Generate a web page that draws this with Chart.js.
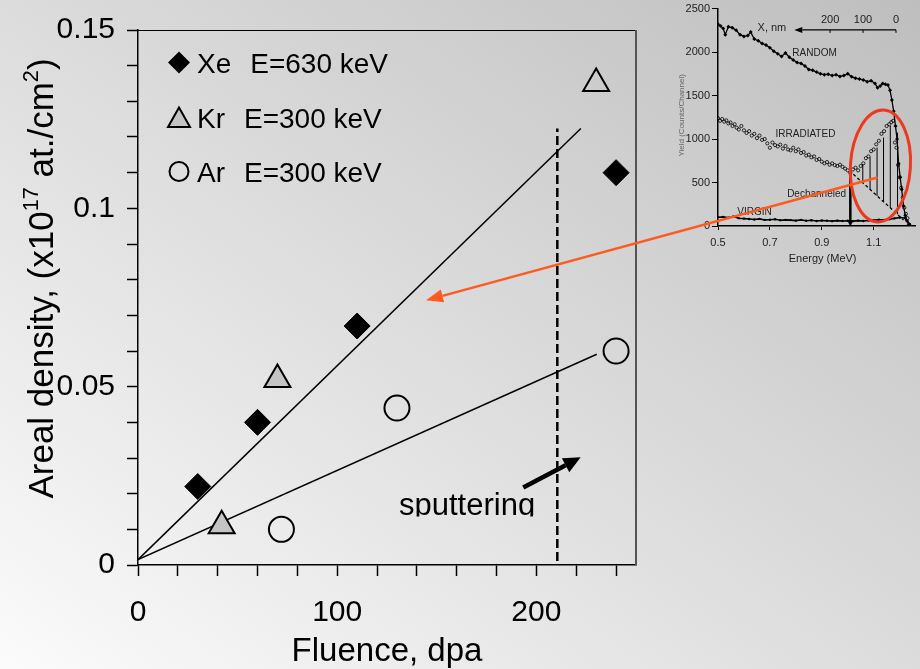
<!DOCTYPE html>
<html lang="en">
<head>
<meta charset="UTF-8">
<title>Areal density vs fluence</title>
<script src="https://cdn.jsdelivr.net/npm/chart.js"></script>
<style>
    html, body {
        margin: 0;
        padding: 0;
        width: 920px;
        height: 669px;
        overflow: hidden;
    }
    body {
        position: relative;
        background: linear-gradient(to top right, #fbfbfb 0%, #dcdcdc 50%, #bebebe 100%);
        font-family: 'Liberation Sans', Arial, sans-serif;
    }
    #inset-wrap {
        position: absolute;
        left: 672px;
        top: 0;
        width: 248px;
        height: 269px;
        z-index: 1;
    }
    #main-wrap {
        position: absolute;
        left: 0;
        top: 0;
        width: 920px;
        height: 669px;
        z-index: 2;
        pointer-events: none;
    }
</style>
</head>
<body>

<div id="inset-wrap"><canvas id="insetChart" width="248" height="269"></canvas></div>
<div id="main-wrap"><canvas id="mainChart" width="920" height="669"></canvas></div>

<script>
// ---- main chart data ----
const xeFluence = [30, 60, 110, 240];
const xeDensity = [0.022, 0.040, 0.067, 0.110];
const krFluence = [42, 70, 230];
const krDensity = [0.011, 0.052, 0.135];
const arFluence = [72, 130, 240];
const arDensity = [0.010, 0.044, 0.060];

const xeFitX = [0, 222.3];
const xeFitY = [0.0015, 0.1224];
const arFitX = [0, 230.3];
const arFitY = [0.0015, 0.0591];
const sputterX = [210.5, 210.5];
const sputterY = [0.0011, 0.1224];

const xTickLabels = [0, 100, 200];
const yTickLabels = [0, 0.05, 0.1, 0.15];

// ---- inset (RBS spectrum) data ----
const randomE = [0.500,0.510,0.520,0.528,0.540,0.555,0.570,0.585,0.600,0.615,
                 0.626,0.640,0.655,0.670,0.685,0.700,0.715,0.730,0.745,0.760,
                 0.775,0.790,0.805,0.820,0.835,0.850,0.865,0.880,0.895,0.910,
                 0.925,0.940,0.955,0.970,0.985,1.000,1.015,1.030,1.045,1.060,
                 1.075,1.090,1.105,1.115,1.125,1.135,1.145,1.155,1.163,1.170,
                 1.177,1.184,1.190,1.196,1.202,1.208,1.215,1.222,1.228,1.235];
const randomYield = [2320,2300,2270,2200,2290,2280,2250,2200,2180,2190,
                     2230,2150,2130,2100,2080,2050,2010,1980,1950,1990,
                     1940,1910,1880,1870,1840,1800,1790,1770,1750,1740,
                     1745,1730,1740,1720,1730,1750,1715,1700,1690,1680,
                     1660,1670,1640,1590,1610,1640,1630,1620,1560,1450,
                     1320,1150,1000,720,560,420,230,120,60,20];

const irrE = [0.500,0.508,0.516,0.524,0.532,0.540,0.548,0.556,0.564,0.572,0.580,
              0.59,0.60,0.61,0.62,0.63,0.64,0.65,0.66,0.67,0.68,
              0.69,0.70,0.71,0.72,0.73,0.74,0.75,0.76,0.77,0.78,
              0.79,0.80,0.81,0.82,0.83,0.84,0.85,0.86,0.87,0.88,
              0.89,0.90,0.91,0.92,0.93,0.94,0.95,0.96,0.97,0.98,
              0.99,1.00,1.01,1.02,1.03,1.04,1.05,1.06,1.07,1.08,
              1.09,1.10,1.11,1.12,1.13,1.14,1.15,1.16,
              1.168,1.175,1.182,1.188,1.194,1.200,1.206,1.212,1.218,1.224,1.230];
const irrYield = [1240,1210,1230,1200,1215,1180,1190,1150,1170,1130,1110,
                  1150,1100,1070,1090,1040,1060,1010,1040,990,1000,
                  950,900,960,930,915,935,890,920,880,870,
                  900,860,880,840,850,810,820,790,800,760,
                  770,740,720,735,705,720,700,690,705,680,
                  660,640,610,650,670,640,690,720,780,800,
                  860,880,940,980,1060,1090,1150,1170,
                  1195,1210,960,900,700,560,440,330,210,140,90];

const virginE = [0.50,0.52,0.54,0.56,0.58,0.60,0.62,0.64,0.66,0.68,
                 0.70,0.72,0.74,0.76,0.78,0.80,0.82,0.84,0.86,0.88,
                 0.90,0.92,0.94,0.96,0.98,1.00,1.02,1.04,1.06,1.08,
                 1.10,1.12,1.14,1.16,1.18,1.20,1.22,1.24];
const virginYield = [100,105,95,110,90,85,80,75,82,70,
                     72,78,66,70,68,62,70,60,66,58,
                     64,60,56,62,58,60,56,62,58,64,
                     68,72,70,78,88,98,92,20];

const dechE = [1.006, 1.215];
const dechYield = [638, 70];

const hatchE = [1.010, 1.058, 1.086, 1.113, 1.138, 1.164, 1.192];
const hatchTop = [618, 714, 790, 903, 1017, 1150, 1074];
const hatchBottom = [40, 495, 420, 345, 280, 210, 135];

const insetXTicks = [0.5, 0.7, 0.9, 1.1];
const depthTicks = [200, 100, 0];

Chart.defaults.font.family = "'Liberation Sans', Arial, sans-serif";
Chart.defaults.color = '#000';

function pts(xs, ys) {
    return xs.map((x, i) => ({ x: x, y: ys[i] }));
}

function arrow(ctx, x1, y1, x2, y2, len, half, color, width) {
    const a = Math.atan2(y2 - y1, x2 - x1);
    const bx = x2 - Math.cos(a) * len, by = y2 - Math.sin(a) * len;
    ctx.save();
    ctx.strokeStyle = color;
    ctx.fillStyle = color;
    ctx.lineWidth = width;
    ctx.beginPath();
    ctx.moveTo(x1, y1);
    ctx.lineTo(bx, by);
    ctx.stroke();
    ctx.beginPath();
    ctx.moveTo(x2, y2);
    ctx.lineTo(bx + Math.sin(a) * half, by - Math.cos(a) * half);
    ctx.lineTo(bx - Math.sin(a) * half, by + Math.cos(a) * half);
    ctx.closePath();
    ctx.fill();
    ctx.restore();
}

// ---- inset chart ----
const insetDecor = {
    id: 'insetDecor',
    afterDatasetsDraw(chart) {
        const ctx = chart.ctx;
        const xs = chart.scales.x, ys = chart.scales.y;
        const area = chart.chartArea;
        ctx.save();

        // hatching between dechanneled line and irradiated spectrum
        ctx.strokeStyle = '#000';
        hatchE.forEach((e, i) => {
            const px = xs.getPixelForValue(e);
            ctx.lineWidth = i === 0 ? 2.5 : 1;
            ctx.beginPath();
            ctx.moveTo(px, ys.getPixelForValue(hatchTop[i]));
            ctx.lineTo(px, ys.getPixelForValue(hatchBottom[i]));
            ctx.stroke();
        });
        const p0 = xs.getPixelForValue(hatchE[0]);
        const b0 = ys.getPixelForValue(hatchBottom[0]);
        ctx.fillStyle = '#000';
        ctx.beginPath();
        ctx.moveTo(p0, b0 + 4);
        ctx.lineTo(p0 - 3, b0 - 2);
        ctx.lineTo(p0 + 3, b0 - 2);
        ctx.closePath();
        ctx.fill();

        // curve labels
        ctx.fillStyle = '#222';
        ctx.font = "10px 'Liberation Sans', Arial, sans-serif";
        ctx.textAlign = 'center';
        ctx.textBaseline = 'middle';
        [['RANDOM', 0.872, 1982], ['IRRADIATED', 0.837, 1056],
         ['Dechanneled', 0.880, 361], ['VIRGIN', 0.641, 156]].forEach(l => {
            ctx.fillText(l[0], xs.getPixelForValue(l[1]), ys.getPixelForValue(l[2]));
        });

        // depth scale "X, nm"
        const depthE0 = 1.186, depthK = 0.00127, depthY = 2255;
        const ly = ys.getPixelForValue(depthY);
        const xEnd = xs.getPixelForValue(depthE0);
        const xTip = xs.getPixelForValue(0.794);
        arrow(ctx, xEnd, ly, xTip, ly, 8, 3, '#000', 1.3);
        ctx.strokeStyle = '#000';
        ctx.lineWidth = 1;
        ctx.font = "11px 'Liberation Sans', Arial, sans-serif";
        ctx.fillStyle = '#222';
        depthTicks.forEach(d => {
            const px = xs.getPixelForValue(depthE0 - depthK * d);
            ctx.beginPath();
            ctx.moveTo(px, ly);
            ctx.lineTo(px, ly + 3);
            ctx.stroke();
            ctx.fillText(String(d), px, ly - 10);
        });
        ctx.textAlign = 'right';
        ctx.fillText('X, nm', xTip - 8, ly - 2);

        // red ellipse around the surface peak
        ctx.strokeStyle = '#ea3a1f';
        ctx.lineWidth = 3;
        ctx.beginPath();
        ctx.ellipse(xs.getPixelForValue(1.126), ys.getPixelForValue(690), 30, 56, 0.06, 0, Math.PI * 2);
        ctx.stroke();

        // axis titles
        ctx.fillStyle = '#222';
        ctx.textAlign = 'center';
        ctx.font = "11px 'Liberation Sans', Arial, sans-serif";
        ctx.fillText('Energy (MeV)', (area.left + area.right) / 2 + 6, area.bottom + 33);
        ctx.translate(10, (area.top + area.bottom) / 2 - 2);
        ctx.rotate(-Math.PI / 2);
        ctx.fillStyle = '#666';
        ctx.font = "8px 'Liberation Sans', Arial, sans-serif";
        ctx.fillText('Yield (Counts/Channel)', 0, 0);
        ctx.restore();
    }
};

const insetChart = new Chart(document.getElementById('insetChart'), {
    type: 'scatter',
    data: {
        datasets: [
            {
                label: 'RANDOM',
                data: pts(randomE, randomYield),
                showLine: true,
                borderColor: '#000',
                borderWidth: 1.3,
                pointStyle: 'rectRot',
                pointRadius: 2,
                pointBackgroundColor: '#000',
                pointBorderWidth: 0
            },
            {
                label: 'IRRADIATED',
                data: pts(irrE, irrYield),
                showLine: false,
                pointStyle: 'circle',
                pointRadius: 1.6,
                pointBorderColor: '#000',
                pointBorderWidth: 0.8,
                pointBackgroundColor: 'rgba(0,0,0,0)'
            },
            {
                label: 'VIRGIN',
                data: pts(virginE, virginYield),
                showLine: true,
                borderColor: '#000',
                borderWidth: 1.6,
                pointRadius: 1.2,
                pointBackgroundColor: '#000',
                pointBorderWidth: 0
            },
            {
                label: 'Dechanneled',
                data: pts(dechE, dechYield),
                showLine: true,
                borderColor: '#000',
                borderWidth: 1.3,
                borderDash: [3, 2.5],
                pointRadius: 0
            }
        ]
    },
    options: {
        responsive: false,
        animation: false,
        layout: { padding: { top: 7, right: 4, left: 0, bottom: 0 } },
        plugins: { legend: { display: false }, tooltip: { enabled: false } },
        scales: {
            x: {
                type: 'linear',
                min: 0.5,
                max: 1.26,
                afterBuildTicks: s => { s.ticks = insetXTicks.map(v => ({ value: v })); },
                afterFit: s => { s.height = 43; },
                ticks: {
                    font: { size: 11 },
                    color: '#222',
                    padding: 6,
                    maxRotation: 0,
                    autoSkip: false,
                    callback: v => v.toFixed(1)
                },
                grid: { drawOnChartArea: false, tickLength: 4, tickColor: '#000' },
                border: { color: '#000', width: 1.5 }
            },
            y: {
                min: 0,
                max: 2500,
                afterFit: s => { s.width = 46; },
                ticks: {
                    stepSize: 500,
                    font: { size: 11 },
                    color: '#222',
                    padding: 2,
                    callback: v => String(v)
                },
                grid: { drawOnChartArea: false, tickLength: 6, tickColor: '#000' },
                border: { color: '#000', width: 1.5 }
            }
        }
    },
    plugins: [insetDecor]
});

// ---- main chart ----
const mainDecor = {
    id: 'mainDecor',
    afterDraw(chart) {
        const ctx = chart.ctx;
        const xs = chart.scales.x, ys = chart.scales.y;
        const area = chart.chartArea;
        const font = s => s + "px 'Liberation Sans', Arial, sans-serif";
        ctx.save();

        // plot box top / right
        ctx.strokeStyle = '#000';
        ctx.lineWidth = 1;
        ctx.beginPath();
        ctx.moveTo(area.left, area.top + 0.5);
        ctx.lineTo(area.right, area.top + 0.5);
        ctx.stroke();
        ctx.strokeStyle = '#555';
        ctx.lineWidth = 2;
        ctx.beginPath();
        ctx.moveTo(area.right, area.top);
        ctx.lineTo(area.right, area.bottom);
        ctx.stroke();

        // legend
        const rows = [62.5, 117.5, 171.5];
        const mx = area.left + 41, tx = area.left + 59;
        chart.data.datasets.slice(0, 3).forEach((ds, i) => {
            const cy = rows[i];
            ctx.lineWidth = 2;
            ctx.strokeStyle = '#000';
            ctx.beginPath();
            if (ds.pointStyle === 'rectRot') {
                ctx.moveTo(mx, cy - 11); ctx.lineTo(mx + 11, cy);
                ctx.lineTo(mx, cy + 11); ctx.lineTo(mx - 11, cy);
                ctx.closePath();
                ctx.fillStyle = '#000';
                ctx.fill();
            } else if (ds.pointStyle === 'triangle') {
                ctx.moveTo(mx, cy - 10); ctx.lineTo(mx + 11, cy + 9.5);
                ctx.lineTo(mx - 11, cy + 9.5);
                ctx.closePath();
                ctx.fillStyle = '#c4c4c4';
                ctx.fill();
                ctx.stroke();
            } else {
                ctx.arc(mx, cy, 9.5, 0, Math.PI * 2);
                ctx.stroke();
            }
            const parts = ds.label.split(/\s{2,}/);
            ctx.fillStyle = '#000';
            ctx.font = font(28);
            ctx.textAlign = 'left';
            ctx.textBaseline = 'alphabetic';
            ctx.fillText(parts[0], tx, cy + 10.5);
            const w = ctx.measureText(parts[0]).width;
            ctx.fillText(parts[1], tx + w + 19, cy + 10.5);
        });

        // x title
        ctx.textAlign = 'center';
        ctx.font = font(33);
        ctx.fillText('Fluence, dpa', (area.left + area.right) / 2, area.bottom + 96);

        // y title with superscripts
        const size = 35;
        const parts = [['Areal density, (x10', 0], ['17', 1], [' at./cm', 0], ['2', 1], [')', 0]];
        ctx.save();
        ctx.translate(53, (area.top + area.bottom) / 2 - 19);
        ctx.rotate(-Math.PI / 2);
        let total = 0;
        parts.forEach(p => { ctx.font = font(p[1] ? size * 0.62 : size); total += ctx.measureText(p[0]).width; });
        let cx = -total / 2;
        ctx.textAlign = 'left';
        parts.forEach(p => {
            ctx.font = font(p[1] ? size * 0.62 : size);
            ctx.fillText(p[0], cx, p[1] ? -size * 0.42 : 0);
            cx += ctx.measureText(p[0]).width;
        });
        ctx.restore();

        // sputtering annotation
        arrow(ctx, xs.getPixelForValue(193.4), ys.getPixelForValue(0.0217),
              xs.getPixelForValue(222.2), ys.getPixelForValue(0.0302), 17, 8, '#000', 4.5);
        const sx = xs.getPixelForValue(165.2), sy = ys.getPixelForValue(0.0139);
        ctx.save();
        ctx.beginPath();
        ctx.rect(sx - 100, sy - 40, 200, 41);
        ctx.clip();
        ctx.fillStyle = '#000';
        ctx.font = font(31);
        ctx.textAlign = 'center';
        ctx.fillText('sputtering', sx, sy);
        ctx.restore();

        // orange arrow from the inset to the line
        const ix = insetChart.scales.x, iy = insetChart.scales.y;
        const tailX = 672 + ix.getPixelForValue(1.115);
        const tailY = iy.getPixelForValue(558);
        arrow(ctx, tailX, tailY, xs.getPixelForValue(144.6), ys.getPixelForValue(0.0742), 17, 6.5, '#ff5a1f', 2.5);

        ctx.restore();
    }
};

new Chart(document.getElementById('mainChart'), {
    type: 'scatter',
    data: {
        datasets: [
            {
                label: 'Xe  E=630 keV',
                data: pts(xeFluence, xeDensity),
                pointStyle: 'rectRot',
                pointRadius: 13,
                pointBackgroundColor: '#000',
                pointBorderColor: '#000',
                pointBorderWidth: 1
            },
            {
                label: 'Kr  E=300 keV',
                data: pts(krFluence, krDensity),
                pointStyle: 'triangle',
                pointRadius: 15,
                pointBackgroundColor: ['#c4c4c4', '#c4c4c4', 'rgba(0,0,0,0)'],
                pointBorderColor: '#000',
                pointBorderWidth: 2
            },
            {
                label: 'Ar  E=300 keV',
                data: pts(arFluence, arDensity),
                pointStyle: 'circle',
                pointRadius: 12.5,
                pointBackgroundColor: 'rgba(0,0,0,0)',
                pointBorderColor: '#000',
                pointBorderWidth: 2
            },
            {
                label: 'Xe fit',
                data: pts(xeFitX, xeFitY),
                showLine: true,
                borderColor: '#000',
                borderWidth: 1.5,
                pointRadius: 0
            },
            {
                label: 'Ar fit',
                data: pts(arFitX, arFitY),
                showLine: true,
                borderColor: '#000',
                borderWidth: 1.5,
                pointRadius: 0
            },
            {
                label: 'sputtering limit',
                data: pts(sputterX, sputterY),
                showLine: true,
                borderColor: '#000',
                borderWidth: 2.5,
                borderDash: [9, 4],
                pointRadius: 0
            }
        ]
    },
    options: {
        responsive: false,
        animation: false,
        layout: { padding: { top: 23, right: 284, left: 0, bottom: 0 } },
        plugins: { legend: { display: false }, tooltip: { enabled: false } },
        scales: {
            x: {
                type: 'linear',
                min: 0,
                max: 250,
                afterFit: s => { s.height = 104; },
                ticks: {
                    stepSize: 20,
                    includeBounds: false,
                    autoSkip: false,
                    maxRotation: 0,
                    padding: 19,
                    font: { size: 30 },
                    color: '#000',
                    callback: v => xTickLabels.includes(Math.round(v)) ? String(Math.round(v)) : ''
                },
                grid: { drawOnChartArea: false, tickLength: 11, tickColor: '#000', tickWidth: 1.5 },
                border: { color: '#000', width: 1.5 }
            },
            y: {
                min: 0,
                max: 0.15,
                afterFit: s => { s.width = 138; },
                ticks: {
                    stepSize: 0.01,
                    autoSkip: false,
                    padding: 12,
                    font: { size: 30 },
                    color: '#000',
                    callback: v => {
                        const hit = yTickLabels.find(t => Math.round(t * 100) === Math.round(v * 100));
                        return hit !== undefined ? String(hit) : '';
                    }
                },
                grid: { drawOnChartArea: false, tickLength: 11, tickColor: '#000', tickWidth: 1.5 },
                border: { color: '#000', width: 1.5 }
            }
        }
    },
    plugins: [mainDecor]
});
</script>

</body>
</html>
